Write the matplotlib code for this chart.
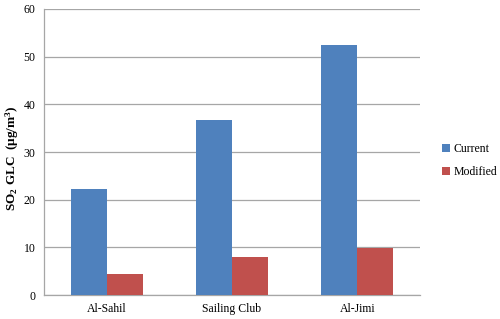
import numpy as np
import matplotlib
matplotlib.use('Agg')
import matplotlib.pyplot as plt

plt.rcParams['font.family'] = ['Liberation Serif', 'DejaVu Serif']
plt.rcParams['mathtext.default'] = 'regular'

# Datos
sitios = ['Al-Sahil', 'Sailing Club', 'Al-Jimi']
actual = [22.2, 36.7, 52.4]
modificado = [4.5, 8.0, 9.8]
series = ['Current', 'Modified']
colores = ['#4f81bd', '#c0504d']

fig = plt.figure(figsize=(5.0, 3.19), dpi=100)
ax = fig.add_axes([0.088, 0.075, 0.752, 0.897])

x = np.arange(len(sitios))
w = 0.287
ax.bar(x - w / 2, actual, w, color=colores[0], label=series[0], zorder=3)
ax.bar(x + w / 2, modificado, w, color=colores[1], label=series[1], zorder=3)

ax.set_xlim(-0.5, 2.5)
ax.set_ylim(0, 60)
ax.set_yticks(range(0, 61, 10))
ax.set_xticks(x)
ax.set_xticklabels(sitios)
ax.yaxis.grid(True, color='#a6a6a6', linewidth=0.9, zorder=0)
ax.tick_params(axis='both', length=0, labelsize=8.5, pad=6)

for lado in ['top', 'right']:
    ax.spines[lado].set_visible(False)
for lado in ['left', 'bottom']:
    ax.spines[lado].set_color('#a6a6a6')
    ax.spines[lado].set_linewidth(0.9)

ax.set_ylabel(r'SO$_2$ GLC  (μg/m$^3$)', fontsize=9.5, fontweight='bold')
ax.yaxis.set_label_coords(-0.06, 0.48)

ax.legend(loc='center left', bbox_to_anchor=(1.03, 0.47), frameon=False,
          fontsize=8.5, handlelength=0.7, handleheight=0.7, handletextpad=0.3,
          labelspacing=0.9)

fig.savefig('out.png', dpi=100)
